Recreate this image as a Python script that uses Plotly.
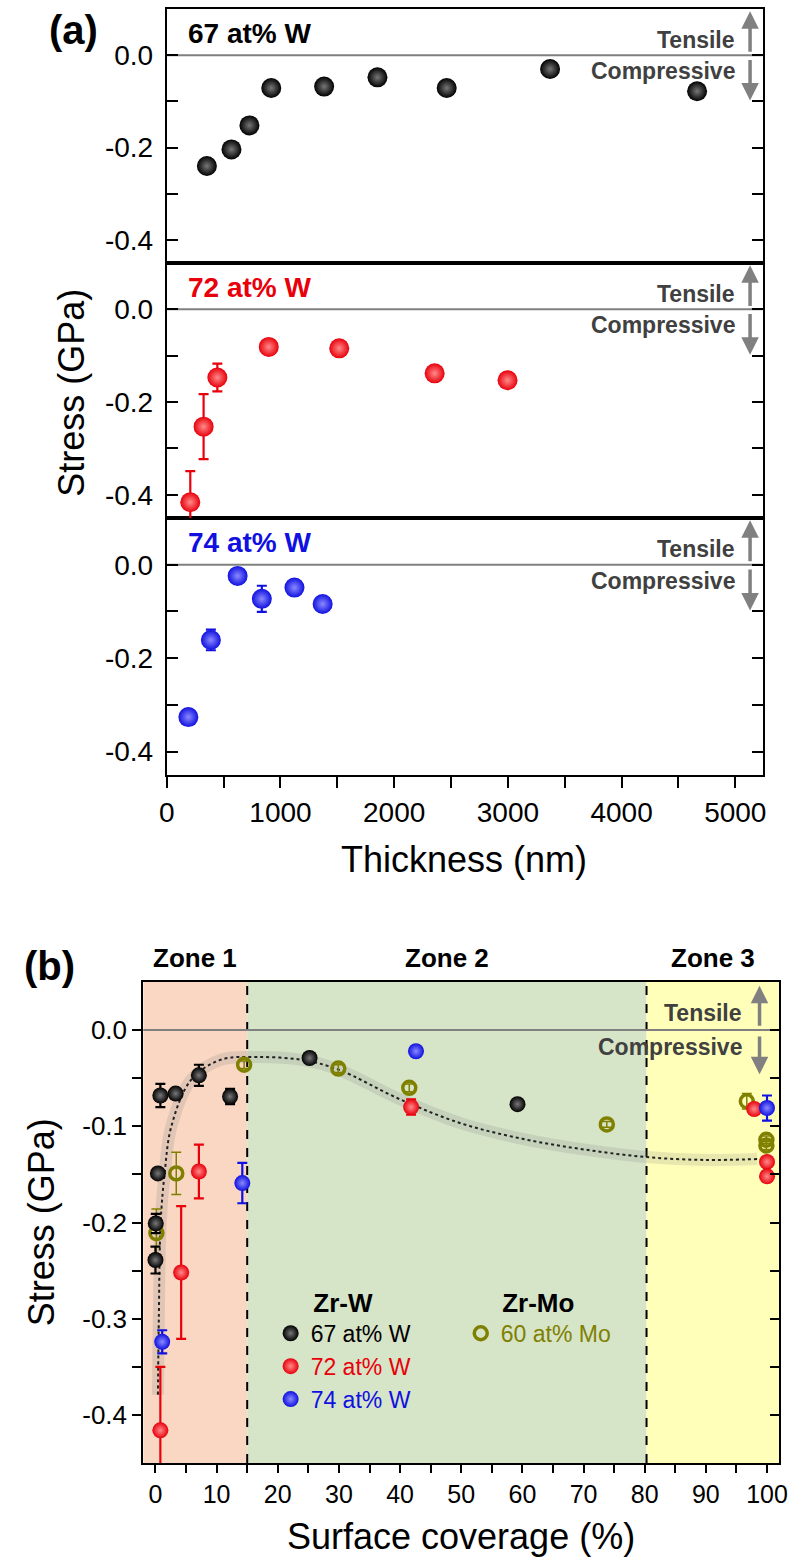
import plotly.graph_objects as go

# ---------------- Panel (a): stress vs film thickness ----------------
thk_67 = [353, 569, 727, 919, 1384, 1853, 2462, 3371, 4664]
str_67 = [-0.240, -0.204, -0.152, -0.071, -0.068, -0.048, -0.071, -0.030, -0.078]
err_67 = [0.005, 0.005, 0.005, 0.005, 0.005, 0.005, 0.005, 0.005, 0.005]

thk_72 = [207, 324, 445, 897, 1517, 2356, 2997]
str_72 = [-0.416, -0.253, -0.147, -0.081, -0.084, -0.138, -0.153]
err_72 = [0.067, 0.070, 0.030, 0.008, 0.005, 0.006, 0.006]

thk_74 = [190, 388, 623, 836, 1123, 1371]
str_74 = [-0.326, -0.161, -0.024, -0.073, -0.049, -0.084]
err_74 = [0.008, 0.022, 0.008, 0.028, 0.008, 0.008]

# ---------------- Panel (b): stress vs surface coverage ----------------
cov_67 = [0.0, 0.05, 0.4, 0.8, 3.3, 7.1, 12.2, 25.2, 59.2]
sb_67 = [-0.239, -0.201, -0.149, -0.068, -0.066, -0.047, -0.069, -0.029, -0.077]
eb_67 = [0.014, 0.010, 0.004, 0.012, 0.005, 0.011, 0.008, 0.004, 0.004]

cov_72 = [0.8, 4.2, 7.1, 41.8, 97.9, 100.0, 100.0]
sb_72 = [-0.416, -0.252, -0.147, -0.080, -0.082, -0.137, -0.152]
eb_72 = [0.066, 0.069, 0.028, 0.008, 0.004, 0.004, 0.004]

cov_74 = [1.1, 14.2, 42.6, 100.0]
sb_74 = [-0.324, -0.159, -0.022, -0.081]
eb_74 = [0.012, 0.021, 0.004, 0.013]

cov_mo = [0.15, 3.4, 14.5, 29.9, 41.5, 73.8, 96.7, 99.9, 99.9]
sb_mo = [-0.211, -0.149, -0.036, -0.040, -0.060, -0.098, -0.074, -0.114, -0.120]
eb_mo = [0.025, 0.022, 0.004, 0.004, 0.004, 0.003, 0.008, 0.004, 0.004]

# guide-to-the-eye trend curve
cov_fit = [0.4, 0.55, 0.85, 1.5, 2.6, 5.8, 10.6, 16.5, 24.0, 29.9, 40.0, 50.0, 60.0, 70.0, 80.3, 90.0, 98.4]
str_fit = [-0.379, -0.300, -0.200, -0.149, -0.100, -0.052, -0.031, -0.028, -0.031, -0.041,
           -0.072, -0.097, -0.113, -0.124, -0.132, -0.135, -0.134]

zone_edges = [-2, 15, 80.3, 102]
zone_names = ["Zone 1", "Zone 2", "Zone 3"]
zone_colors = ["#F9D7C2", "#D6E4C8", "#FFFFBA"]

thk_ticks = [0, 1000, 2000, 3000, 4000, 5000]
cov_ticks = [0, 10, 20, 30, 40, 50, 60, 70, 80, 90, 100]
ya_ticks = [0.0, -0.1, -0.2, -0.3, -0.4]
ya_text = ["0.0", "", "-0.2", "", "-0.4"]
yb_ticks = [0.0, -0.1, -0.2, -0.3, -0.4]
yb_text = ["0.0", "-0.1", "-0.2", "-0.3", "-0.4"]

FONT = "Arial, 'Liberation Sans', sans-serif"
BLACK, RED, BLUE, OLIVE = "#000000", "#E8000B", "#1010E0", "#808000"
GRAY = "#808080"

fig = go.Figure()


def sphere(x, y, e, color, center, xa, ya, size, name=None, legend=None, show=False):
    return go.Scatter(
        x=x, y=y, mode="markers", xaxis=xa, yaxis=ya, name=name,
        showlegend=show, legend=legend,
        error_y=dict(type="data", array=e, color=color, thickness=2.2, width=5),
        marker=dict(size=size, color=color, line=dict(width=0),
                    gradient=dict(type="radial", color=center)),
        hoverinfo="x+y",
    )

# panel (a) traces: top = 67 (x3,y3), middle = 72 (x2,y2), bottom = 74 (x,y)
fig.add_trace(sphere(thk_67, str_67, err_67, BLACK, "#777777", "x3", "y3", 20))
fig.add_trace(sphere(thk_72, str_72, err_72, RED, "#FF8A8A", "x2", "y2", 20))
fig.add_trace(sphere(thk_74, str_74, err_74, BLUE, "#8A8AFF", "x", "y", 20))

# panel (b): trend curve (gray glow + dotted line)
fig.add_trace(go.Scatter(x=cov_fit, y=str_fit, mode="lines", xaxis="x4", yaxis="y4",
                         line=dict(color="rgba(120,120,120,0.18)", width=12, shape="spline", smoothing=1.0),
                         showlegend=False, hoverinfo="skip"))
fig.add_trace(go.Scatter(x=cov_fit, y=str_fit, mode="lines", xaxis="x4", yaxis="y4",
                         line=dict(color="#222222", width=2, dash="dot", shape="spline", smoothing=1.0),
                         showlegend=False, hoverinfo="skip"))

fig.add_trace(go.Scatter(
    x=cov_mo, y=sb_mo, mode="markers", xaxis="x4", yaxis="y4",
    name=f"<span style='color:{OLIVE}'>60 at% Mo</span>", legend="legend2", showlegend=True,
    error_y=dict(type="data", array=eb_mo, color=OLIVE, thickness=1.5, width=5),
    marker=dict(symbol="circle-open", size=13, color=OLIVE, line=dict(width=3.5, color=OLIVE)),
))
fig.add_trace(sphere(cov_67, sb_67, eb_67, BLACK, "#777777", "x4", "y4", 16,
                     name="67 at% W", legend="legend", show=True))
fig.add_trace(sphere(cov_72, sb_72, eb_72, RED, "#FF8A8A", "x4", "y4", 16,
                     name=f"<span style='color:{RED}'>72 at% W</span>", legend="legend", show=True))
fig.add_trace(sphere(cov_74, sb_74, eb_74, BLUE, "#8A8AFF", "x4", "y4", 16,
                     name=f"<span style='color:{BLUE}'>74 at% W</span>", legend="legend", show=True))
# dummy trace to activate right-hand inner tick axis of panel (b)
fig.add_trace(go.Scatter(x=[None], y=[None], xaxis="x4", yaxis="y5", showlegend=False, hoverinfo="skip"))

# --------------- axes -----------------
W, H = 799, 1558
def px_x(p):
    return p / W
def px_y(p):
    return 1 - p / H

xa_dom = [px_x(162), px_x(770)]
xb_dom = [px_x(138), px_x(787)]
ya_range = [-0.45, 0.10]
yb_range = [-0.45, 0.05]
thk_range = [0, 5240]
cov_range = [zone_edges[0], zone_edges[-1]]

axis_common = dict(showline=True, linecolor="black", linewidth=2, showgrid=False, zeroline=False,
                   tickcolor="black", tickwidth=2, tickfont=dict(family=FONT, size=28, color="black"))

ya_common = dict(axis_common, range=ya_range, tickvals=ya_ticks, ticktext=ya_text, ticks="inside",
                 ticklen=11, mirror="ticks", ticklabelstandoff=6)

layout = dict(
    width=W, height=H, paper_bgcolor="white", plot_bgcolor="white",
    margin=dict(l=0, r=0, t=0, b=0),
    font=dict(family=FONT, color="black"),
    xaxis=dict(axis_common, domain=xa_dom, anchor="y", range=thk_range, tickvals=thk_ticks,
               ticks="outside", ticklen=11, mirror=True,
               minor=dict(dtick=500, tick0=0, ticks="outside", ticklen=11, tickwidth=2, tickcolor="black")),
    xaxis2=dict(axis_common, domain=xa_dom, anchor="y2", range=thk_range, matches="x",
                ticks="", showticklabels=False, mirror=True),
    xaxis3=dict(axis_common, domain=xa_dom, anchor="y3", range=thk_range, matches="x",
                ticks="", showticklabels=False, mirror=True),
    yaxis=dict(ya_common, domain=[px_y(775), px_y(518)], anchor="x"),
    yaxis2=dict(ya_common, domain=[px_y(518), px_y(263)], anchor="x2"),
    yaxis3=dict(ya_common, domain=[px_y(263), px_y(9)], anchor="x3"),
    xaxis4=dict(axis_common, domain=xb_dom, anchor="y4", range=cov_range, tickvals=cov_ticks,
                ticks="outside", ticklen=8, mirror=True, tickfont=dict(family=FONT, size=25, color="black"),
                minor=dict(dtick=5, tick0=0, ticks="outside", ticklen=8, tickwidth=2, tickcolor="black")),
    yaxis4=dict(axis_common, domain=[px_y(1463), px_y(982)], anchor="x4", range=yb_range,
                tickvals=yb_ticks, ticktext=yb_text, ticks="outside", ticklen=9, mirror=True,
                tickfont=dict(family=FONT, size=26, color="black"),
                minor=dict(tickvals=[-0.05, -0.15, -0.25, -0.35], ticks="outside", ticklen=9,
                           tickwidth=2, tickcolor="black")),
    yaxis5=dict(overlaying="y4", anchor="x4", side="right", range=yb_range, showline=False,
                showgrid=False, zeroline=False, tickvals=yb_ticks, showticklabels=False,
                ticks="inside", ticklen=9, tickwidth=2, tickcolor="black",
                minor=dict(tickvals=[-0.05, -0.15, -0.25, -0.35], ticks="inside", ticklen=9,
                           tickwidth=2, tickcolor="black")),
    legend=dict(title=dict(text="<b>Zr-W</b>", side="top center",
                           font=dict(family=FONT, size=26, color="black")),
                x=px_x(268), y=px_y(1278), xanchor="left", yanchor="top",
                bgcolor="rgba(0,0,0,0)", font=dict(family=FONT, size=23, color="black"),
                tracegroupgap=0, itemwidth=30),
    legend2=dict(title=dict(text="<b>Zr-Mo</b>", side="top center",
                            font=dict(family=FONT, size=26, color="black")),
                 x=px_x(462), y=px_y(1278), xanchor="left", yanchor="top",
                 bgcolor="rgba(0,0,0,0)", font=dict(family=FONT, size=23, color=OLIVE),
                 itemwidth=30),
)
fig.update_layout(**layout)

shapes = []
# zone shading and boundaries in (b)
for i in range(3):
    shapes.append(dict(type="rect", xref="x4", yref="y4 domain", x0=zone_edges[i], x1=zone_edges[i + 1],
                       y0=0, y1=1, fillcolor=zone_colors[i], line=dict(width=0), layer="below"))
for xe in zone_edges[1:3]:
    shapes.append(dict(type="line", xref="x4", yref="y4 domain", x0=xe, x1=xe, y0=0, y1=1,
                       line=dict(color="black", width=2, dash="dash"), layer="below"))
# zero lines
for xr, yr in [("x domain", "y"), ("x2 domain", "y2"), ("x3 domain", "y3"), ("x4 domain", "y4")]:
    shapes.append(dict(type="line", xref=xr, yref=yr, x0=0, x1=1, y0=0, y1=0,
                       line=dict(color=GRAY, width=2), layer="below"))
fig.update_layout(shapes=shapes)

ann = []
panel_labels = [("67 at% W", BLACK, "3"), ("72 at% W", RED, "2"), ("74 at% W", BLUE, "")]
for txt, col, k in panel_labels:
    ann.append(dict(text=f"<b>{txt}</b>", xref=f"x{k} domain", yref=f"y{k}", x=0.033, y=0.047,
                    xanchor="left", yanchor="middle", showarrow=False,
                    font=dict(family=FONT, size=28, color=col)))
    ann.append(dict(text="<b>Tensile</b>", xref=f"x{k} domain", yref=f"y{k}", x=0.957, y=0.033,
                    xanchor="right", yanchor="middle", showarrow=False,
                    font=dict(family=FONT, size=23, color="#404040")))
    ann.append(dict(text="<b>Compressive</b>", xref=f"x{k} domain", yref=f"y{k}", x=0.957, y=-0.034,
                    xanchor="right", yanchor="middle", showarrow=False,
                    font=dict(family=FONT, size=23, color="#404040")))
    ann.append(dict(text="", xref=f"x{k} domain", yref=f"y{k}", x=0.979, y=0.095,
                    axref=f"x{k} domain", ayref=f"y{k}", ax=0.979, ay=0.004, showarrow=True,
                    arrowhead=2, arrowsize=1, arrowwidth=3.5, arrowcolor=GRAY))
    ann.append(dict(text="", xref=f"x{k} domain", yref=f"y{k}", x=0.979, y=-0.098,
                    axref=f"x{k} domain", ayref=f"y{k}", ax=0.979, ay=-0.007, showarrow=True,
                    arrowhead=2, arrowsize=1, arrowwidth=3.5, arrowcolor=GRAY))

# panel (b) tensile / compressive
ann.append(dict(text="<b>Tensile</b>", xref="x4 domain", yref="y4", x=0.944, y=0.018,
                xanchor="right", yanchor="middle", showarrow=False,
                font=dict(family=FONT, size=23, color="#404040")))
ann.append(dict(text="<b>Compressive</b>", xref="x4 domain", yref="y4", x=0.944, y=-0.018,
                xanchor="right", yanchor="middle", showarrow=False,
                font=dict(family=FONT, size=23, color="#404040")))
ann.append(dict(text="", xref="x4 domain", yref="y4", x=0.969, y=0.046,
                axref="x4 domain", ayref="y4", ax=0.969, ay=0.003, showarrow=True,
                arrowhead=2, arrowsize=1, arrowwidth=3.5, arrowcolor=GRAY))
ann.append(dict(text="", xref="x4 domain", yref="y4", x=0.969, y=-0.046,
                axref="x4 domain", ayref="y4", ax=0.969, ay=-0.005, showarrow=True,
                arrowhead=2, arrowsize=1, arrowwidth=3.5, arrowcolor=GRAY))

# zone titles
for i, zn in enumerate(zone_names):
    ann.append(dict(text=f"<b>{zn}</b>", xref="x4", yref="paper",
                    x=(zone_edges[i] + zone_edges[i + 1]) / 2, y=px_y(958),
                    xanchor="center", yanchor="middle", showarrow=False,
                    font=dict(family=FONT, size=26, color="black")))

# axis titles and panel letters
ann += [
    dict(text="Stress (GPa)", xref="paper", yref="paper", x=px_x(64), y=px_y(393), textangle=-90,
         showarrow=False, xanchor="center", yanchor="middle", font=dict(family=FONT, size=36)),
    dict(text="Thickness (nm)", xref="paper", yref="paper", x=px_x(465), y=px_y(860),
         showarrow=False, xanchor="center", yanchor="middle", font=dict(family=FONT, size=36)),
    dict(text="Stress (GPa)", xref="paper", yref="paper", x=px_x(34), y=px_y(1222), textangle=-90,
         showarrow=False, xanchor="center", yanchor="middle", font=dict(family=FONT, size=36)),
    dict(text="Surface coverage (%)", xref="paper", yref="paper", x=px_x(462), y=px_y(1536),
         showarrow=False, xanchor="center", yanchor="middle", font=dict(family=FONT, size=36)),
    dict(text="<b>(a)</b>", xref="paper", yref="paper", x=px_x(67), y=px_y(30),
         showarrow=False, xanchor="center", yanchor="middle", font=dict(family=FONT, size=40)),
    dict(text="<b>(b)</b>", xref="paper", yref="paper", x=px_x(42), y=px_y(966),
         showarrow=False, xanchor="center", yanchor="middle", font=dict(family=FONT, size=40)),
]
fig.update_layout(annotations=ann)

fig.write_html("out.html", config={"displayModeBar": False},
               post_script="document.body.style.margin='0';document.body.style.overflow='hidden';")
